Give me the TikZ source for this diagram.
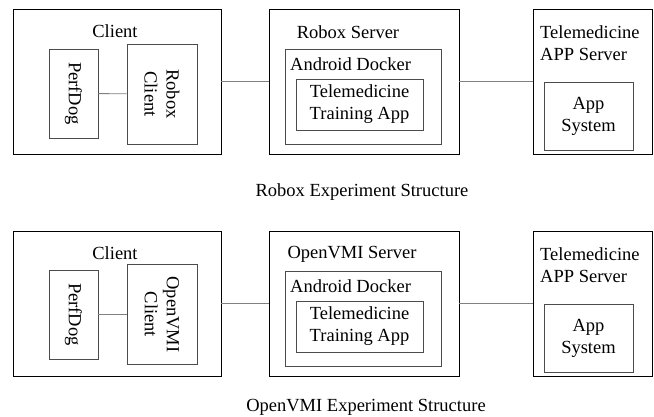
\documentclass[tikz,border=0pt]{standalone}
\usepackage{fontspec}
\setmainfont{Liberation Serif}
\begin{document}
\begin{tikzpicture}
    [x=1pt,y=-1pt,
    font=\fontsize{18.5}{22}\selectfont,
    outer/.style={shape=rectangle,draw=black,line width=0.9pt,inner sep=0pt},
    inner/.style={shape=rectangle,draw=black!70,line width=0.9pt,inner sep=0pt,align=center},
    lbl/.style={inner sep=0pt,align=left},
    edge/.style={draw=black!50,line width=0.9pt}]

    \useasboundingbox (0,0) rectangle (654,417);

    % Robox
    \node (c1) [outer,minimum width=208pt,minimum height=145pt] at (117,81.5) {};
    \node (c1l) [lbl] at (115,31) {Client};
    \node (p1) [inner,minimum width=49pt,minimum height=89pt] at (73.5,93.5) {};
    \node (p1t) [lbl,rotate=-90] at (p1) {PerfDog};
    \node (rc1) [inner,minimum width=70pt,minimum height=100pt] at (162,94) {};
    \node (rc1t) [lbl,align=center,rotate=-90] at (rc1) {Robox\\Client};
    \node (s1) [outer,minimum width=190pt,minimum height=145pt] at (364,81.5) {};
    \node (s1l) [lbl] at (348,32) {Robox Server};
    \node (d1) [inner,minimum width=156pt,minimum height=95pt] at (363,96.5) {};
    \node (d1l) [lbl,anchor=west] at (290,64) {Android Docker};
    \node (t1) [inner,minimum width=127pt,minimum height=51pt] at (359.5,104.5) {Telemedicine\\Training App};
    \node (a1) [outer,minimum width=119pt,minimum height=145pt] at (592.5,81.5) {};
    \node (a1l) [lbl,anchor=west] at (540,43) {Telemedicine\\APP Server};
    \node (y1) [inner,minimum width=89pt,minimum height=68pt] at (588.5,116) {App\\System};
    \node (cap1) [lbl] at (362,192) {Robox Experiment Structure};

    \draw [edge] (p1) -- (rc1);
    \draw [edge] (c1) -- (s1);
    \draw [edge] (s1) -- (a1);

    % OpenVMI
    \node (c2) [outer,minimum width=208pt,minimum height=145pt] at (117,303.5) {};
    \node (c2l) [lbl] at (115,253) {Client};
    \node (p2) [inner,minimum width=49pt,minimum height=89pt] at (73.5,314.5) {};
    \node (p2t) [lbl,rotate=-90] at (p2) {PerfDog};
    \node (rc2) [inner,minimum width=70pt,minimum height=100pt] at (162,314.5) {};
    \node (rc2t) [lbl,align=center,rotate=-90] at (rc2) {OpenVMI\\Client};
    \node (s2) [outer,minimum width=190pt,minimum height=145pt] at (364,303.5) {};
    \node (s2l) [lbl] at (352,254) {OpenVMI Server};
    \node (d2) [inner,minimum width=156pt,minimum height=95pt] at (363,318.5) {};
    \node (d2l) [lbl,anchor=west] at (290,286) {Android Docker};
    \node (t2) [inner,minimum width=127pt,minimum height=51pt] at (359.5,326.5) {Telemedicine\\Training App};
    \node (a2) [outer,minimum width=119pt,minimum height=145pt] at (592.5,303.5) {};
    \node (a2l) [lbl,anchor=west] at (540,265) {Telemedicine\\APP Server};
    \node (y2) [inner,minimum width=89pt,minimum height=68pt] at (588.5,338) {App\\System};
    \node (cap2) [lbl] at (366,407) {OpenVMI Experiment Structure};

    \draw [edge] (p2) -- (rc2);
    \draw [edge] (c2) -- (s2);
    \draw [edge] (s2) -- (a2);

\end{tikzpicture}
\end{document}
